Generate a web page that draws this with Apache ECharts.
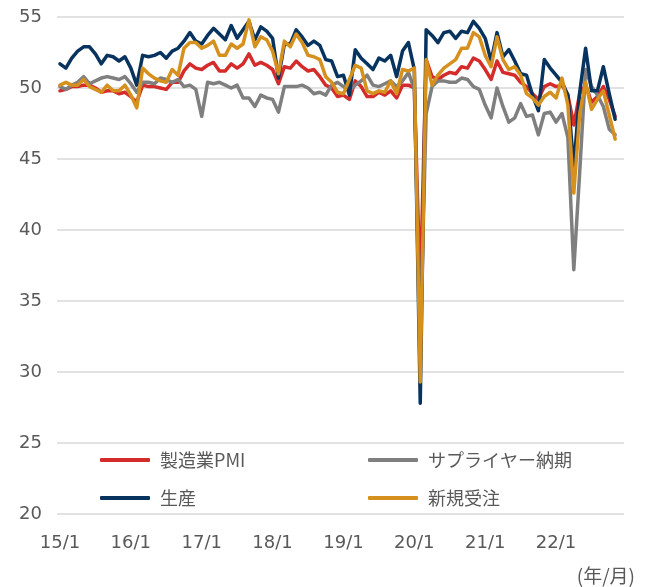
<!DOCTYPE html>
<html>
<head>
<meta charset="utf-8">
<script src="https://cdn.jsdelivr.net/npm/echarts@6/dist/echarts.min.js"></script>
<style>
html,body{margin:0;padding:0;background:#fff;}
#c{width:647px;height:587px;}
</style>
</head>
<body>
<div id="c"></div>
<script>
// Month categories 15/1 .. 22/12 (last month has no data yet)
const categories = [];
for (let y = 15; y <= 22; y++) {
  for (let m = 1; m <= 12; m++) {
    categories.push(y + '/' + m);
  }
}
const yTicks = [20, 25, 30, 35, 40, 45, 50, 55];

const pmi = [
  49.8, 49.9, 50.1, 50.1, 50.2, 50.2, 50.0, 49.7, 49.8, 49.8, 49.6, 49.7,
  49.4, 49.0, 50.2, 50.1, 50.1, 50.0, 49.9, 50.4, 50.4, 51.2, 51.7, 51.4,
  51.3, 51.6, 51.8, 51.2, 51.2, 51.7, 51.4, 51.7, 52.4, 51.6, 51.8, 51.6,
  51.3, 50.3, 51.5, 51.4, 51.9, 51.5, 51.2, 51.3, 50.8, 50.2, 50.0, 49.4,
  49.5, 49.2, 50.5, 50.1, 49.4, 49.4, 49.7, 49.5, 49.8, 49.3, 50.2, 50.2,
  50.0, 35.7, 52.0, 50.8, 50.6, 50.9, 51.1, 51.0, 51.5, 51.4, 52.1, 51.9,
  51.3, 50.6, 51.9, 51.1, 51.0, 50.9, 50.4, 50.1, 49.6, 49.2, 50.1, 50.3,
  50.1, 50.2, 49.5, 47.4, 49.6, 50.2, 49.0, 49.4, 50.1, 49.2, 48.0
];
const supplier = [
  50.1, 49.9, 50.2, 50.4, 50.8, 50.3, 50.5, 50.7, 50.8, 50.7, 50.6, 50.8,
  50.3, 49.7, 50.4, 50.4, 50.3, 50.7, 50.6, 50.4, 50.6, 50.1, 50.2, 49.9,
  48.0, 50.4, 50.3, 50.4, 50.2, 50.0, 50.2, 49.3, 49.3, 48.7, 49.5, 49.3,
  49.2, 48.3, 50.1, 50.1, 50.1, 50.2, 50.0, 49.6, 49.7, 49.5, 50.2, 50.4,
  50.1, 49.8, 50.2, 50.5, 50.9, 50.2, 50.1, 50.3, 50.5, 50.1, 50.5, 51.1,
  49.9, 32.1, 48.2, 50.1, 50.5, 50.5, 50.4, 50.4, 50.7, 50.6, 50.1, 49.9,
  48.8, 47.9, 50.0, 48.7, 47.6, 47.9, 48.9, 48.0, 48.1, 46.7, 48.2, 48.3,
  47.6, 48.2, 46.5, 37.2, 44.1, 51.3, 50.1, 49.5, 48.7, 47.1, 46.7
];
const production = [
  51.7, 51.4, 52.1, 52.6, 52.9, 52.9, 52.4, 51.7, 52.3, 52.2, 51.9, 52.2,
  51.4, 50.2, 52.3, 52.2, 52.3, 52.5, 52.1, 52.6, 52.8, 53.3, 53.9, 53.3,
  53.1, 53.7, 54.2, 53.8, 53.4, 54.4, 53.5, 54.1, 54.7, 53.4, 54.3, 54.0,
  53.5, 50.7, 53.1, 53.1, 54.1, 53.6, 53.0, 53.3, 53.0, 52.0, 51.9, 50.8,
  50.9, 49.5, 52.7, 52.1, 51.7, 51.3, 52.1, 51.9, 52.3, 50.8, 52.6, 53.2,
  51.3, 27.8, 54.1, 53.7, 53.2, 53.9, 54.0, 53.5, 54.0, 53.9, 54.7, 54.2,
  53.5, 51.9, 53.9, 52.2, 52.7, 51.9, 51.0, 50.9, 49.5, 48.4, 52.0, 51.4,
  50.9, 50.4, 49.5, 44.4, 49.7, 52.8, 49.8, 49.8, 51.5, 49.6, 47.8
];
const newOrders = [
  50.2, 50.4, 50.2, 50.2, 50.6, 50.1, 49.9, 49.7, 50.2, 49.8, 49.8, 50.2,
  49.5, 48.6, 51.4, 51.0, 50.7, 50.5, 50.4, 51.3, 50.9, 52.8, 53.2, 53.2,
  52.8, 53.0, 53.3, 52.3, 52.3, 53.1, 52.8, 53.1, 54.8, 52.9, 53.6, 53.4,
  52.6, 51.0, 53.3, 52.9, 53.8, 53.2, 52.3, 52.2, 52.0, 50.8, 50.4, 49.7,
  49.6, 50.6, 51.6, 51.4, 49.8, 49.6, 49.8, 49.7, 50.5, 49.6, 51.3, 51.2,
  51.4, 29.3, 52.0, 50.2, 50.9, 51.4, 51.7, 52.0, 52.8, 52.8, 53.9, 53.6,
  52.3, 51.5, 53.6, 52.0, 51.3, 51.5, 50.9, 49.6, 49.3, 48.8, 49.4, 49.7,
  49.3, 50.7, 48.8, 42.6, 48.2, 50.4, 48.5, 49.2, 49.8, 48.1, 46.4
];

const names = ['製造業PMI', 'サプライヤー納期', '生産', '新規受注'];
const colors = ['#D42B2B', '#7F7F7F', '#07335E', '#D6901D'];
const seriesData = [pmi, supplier, production, newOrders];

const numFont = 'DejaVu Sans';
const jpFont = '"Noto Sans CJK JP", "Noto Sans", sans-serif';
const labelColor = '#595959';

const chart = echarts.init(document.getElementById('c'), null, {renderer: 'canvas'});
const legendCommon = {
  orient: 'vertical',
  itemWidth: 50,
  itemHeight: 4,
  itemGap: 18,
  icon: 'roundRect',
  textStyle: {fontSize: 18, color: labelColor, fontFamily: jpFont, lineHeight: 20, padding: [0, 0, 0, 5]}
};
chart.setOption({
  animation: false,
  backgroundColor: '#ffffff',
  grid: {left: 57, right: 23, top: 17, bottom: 73},
  legend: [
    Object.assign({left: 95, top: 445, data: [names[0], names[2]]}, legendCommon),
    Object.assign({left: 363, top: 445, data: [names[1], names[3]]}, legendCommon)
  ],
  xAxis: {
    type: 'category',
    data: categories,
    boundaryGap: true,
    axisLine: {show: false},
    axisTick: {show: false},
    axisLabel: {
      interval: function (i) { return i % 12 === 0; },
      fontSize: 18, color: labelColor, fontFamily: numFont, margin: 20
    },
    splitLine: {show: false}
  },
  yAxis: {
    type: 'value',
    min: yTicks[0],
    max: yTicks[yTicks.length - 1],
    interval: 5,
    axisLine: {show: false},
    axisTick: {show: false},
    axisLabel: {fontSize: 18, color: labelColor, fontFamily: numFont, margin: 15},
    splitLine: {lineStyle: {color: '#D9D9D9', width: 1.5}}
  },
  graphic: [{
    type: 'text',
    right: 12,
    top: 566,
    style: {text: '(年/月)', fontSize: 19, fill: labelColor, fontFamily: jpFont}
  }],
  series: seriesData.map(function (d, i) {
    return {
      name: names[i],
      type: 'line',
      data: d,
      symbol: 'none',
      color: colors[i],
      lineStyle: {color: colors[i], width: 3.5, cap: 'round', join: 'round'},
      itemStyle: {color: colors[i]},
      z: 2 + i
    };
  })
});
</script>
</body>
</html>
